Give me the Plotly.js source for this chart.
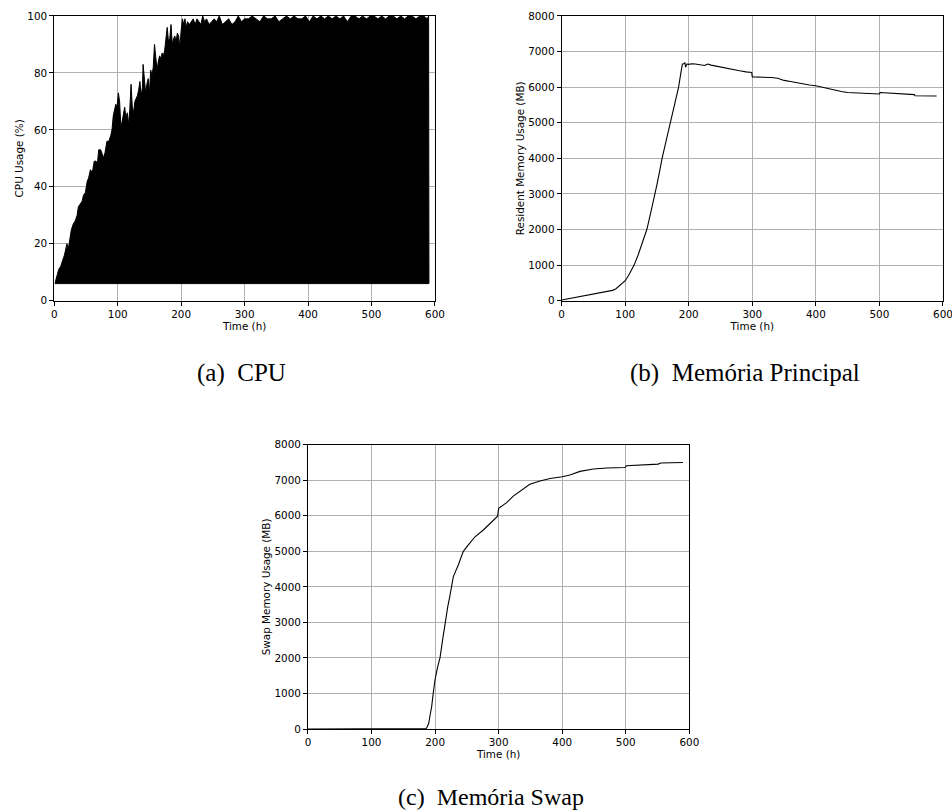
<!DOCTYPE html>
<html>
<head>
<meta charset="utf-8">
<script src="https://cdn.plot.ly/plotly-3.0.1.min.js"></script>
<style>html,body{margin:0;padding:0;background:#fff;}#chart{width:952px;height:812px;}</style>
</head>
<body>
<div id="chart"></div>
<script>
// ---- CPU usage: upper envelope of the dense oscillation and its floor ----
const cpuTime = [1,3,5,7,10,13,16,19,20,22,25,27,30,33,36,38,41,44,46,49,52,54,57,60,63,66,68,70,73,75,77,80,83,86,89,91,93,95,97,99,101,103,105,107,109,111,113,115,117,119,121,123,125,127,129,131,133,135,137,139,140,142,144,146,148,150,152,154,156,158,160,162,164,166,168,170,172,174,176,178,180,182,184,186,188,190,192,194,196,198,200,202,204,206,208,210,213,216,219,222,225,228,231,234,237,240,244,248,252,256,260,265,270,275,280,285,290,295,300,306,312,318,324,330,336,342,348,354,360,366,372,378,384,390,396,402,408,414,420,426,432,438,444,450,456,462,468,474,480,486,492,498,504,510,516,522,528,534,540,546,552,558,564,570,576,582,588,590,590.5];
const cpuPeak = [6,8,10,11,12,14,16,19,20,18,22,25,27,28,30,33,34,35,37,38,42,43,46,45,49,49,48,53,53,52,50,52,56,56,58,60,65,67,69,68,73,70,61,63,65,68,64,66,62,67,76,68,66,70,71,72,74,77,72,75,83,78,73,76,78,73,81,79,82,90,85,81,84,86,85,87,86,88,92,96,91,92,97,90,92,93,91,94,93,89,95,99,97,99,96,98,97,98,99,97,99,98,97,100,98,99,97,98,99,98,100,97,98,99,97,98,100,98,99,99,100,99,98,100,99,99,100,98,99,100,99,100,99,99,100,98,100,99,100,99,100,99,100,99,100,98,100,100,99,100,99,100,100,99,100,99,100,100,99,100,99,100,100,99,100,100,99,100,6];
const cpuFloorTime = [1, 590.5];
const cpuFloor = [6, 6];

// ---- Resident memory (MB) ----
const memTime = [0,10,20,30,40,50,60,70,80,85,90,95,100,105,110,114,120,125,130,134,140,147,150,155,158,165,171,175,180,184,188,190,192,194,195,197,200,205,210,215,220,225,228,230,235,240,250,260,270,280,290,299,300,305,310,320,330,340,350,360,370,380,390,400,405,410,420,430,440,450,460,470,480,490,500,501,510,520,530,540,550,555,556,560,570,580,590];
const memValue = [20,55,90,125,160,195,230,265,290,330,400,480,560,700,850,1000,1270,1520,1780,2000,2460,3000,3270,3720,4000,4540,5000,5310,5690,6000,6450,6650,6660,6690,6560,6650,6640,6660,6650,6640,6620,6610,6640,6650,6620,6600,6560,6530,6490,6460,6430,6410,6290,6290,6290,6280,6270,6250,6190,6160,6120,6090,6060,6040,6020,6000,5940,5910,5880,5850,5840,5835,5830,5825,5810,5850,5840,5830,5820,5810,5795,5790,5760,5760,5755,5752,5750];

// ---- Swap memory (MB) ----
const swapTime = [0,100,186,188,190,192,194.6,197,199.8,204,207.7,212,215.6,220,223,228.7,236.5,244.4,252.3,262.8,275.9,286.4,292,298.4,300,306,312.6,323,336,349,365,380.8,400,412,428,449,470,499,501,522,551,555,575,590];
const swapValue = [0,0,10,80,160,380,630,1000,1380,1750,2000,2530,3000,3450,3720,4290,4615,5000,5180,5410,5600,5770,5880,5990,6210,6280,6370,6555,6725,6885,6980,7050,7100,7150,7250,7315,7345,7360,7410,7430,7455,7485,7495,7500];

// ---- Labels ----
const xTitle = 'Time (h)';
const yTitles = ['CPU Usage (%)', 'Resident Memory Usage (MB)', 'Swap Memory Usage (MB)'];
const captions = ['(a)\u00a0 CPU', '(b)\u00a0 Memória Principal', '(c)\u00a0 Memória Swap'];

const tickFont = {family: 'DejaVu Sans', size: 10.4, color: '#000'};
const titleFont = {family: 'DejaVu Sans', size: 10.4, color: '#000'};
const capFont = {family: 'Liberation Serif', size: 25, color: '#000'};

function xAx(domain, anchor) {
  return {
    domain: domain, anchor: anchor, range: [0, 600], dtick: 100, tick0: 0,
    ticks: 'outside', ticklen: 4, tickwidth: 1, tickcolor: '#000',
    showline: true, mirror: true, linecolor: '#000', linewidth: 1,
    showgrid: true, gridcolor: '#b0b0b0', gridwidth: 1, zeroline: false,
    ticklabeloverflow: 'allow',
    tickfont: tickFont, title: {text: xTitle, font: titleFont, standoff: 2}
  };
}
function yAx(domain, anchor, range, dtick, title) {
  return {
    domain: domain, anchor: anchor, range: range, dtick: dtick, tick0: 0,
    ticks: 'outside', ticklen: 4, tickwidth: 1, tickcolor: '#000',
    showline: true, mirror: true, linecolor: '#000', linewidth: 1,
    showgrid: true, gridcolor: '#b0b0b0', gridwidth: 1, zeroline: false,
    tickfont: tickFont, title: {text: title, font: titleFont}
  };
}

const traces = [
  {x: cpuFloorTime, y: cpuFloor, xaxis: 'x', yaxis: 'y', mode: 'lines',
   line: {color: '#000', width: 1}, hoverinfo: 'skip'},
  {x: cpuTime, y: cpuPeak, xaxis: 'x', yaxis: 'y', mode: 'lines',
   line: {color: '#000', width: 1}, fill: 'tonexty', fillcolor: '#000'},
  {x: memTime, y: memValue, xaxis: 'x2', yaxis: 'y2', mode: 'lines',
   line: {color: '#000', width: 1.1}},
  {x: swapTime, y: swapValue, xaxis: 'x3', yaxis: 'y3', mode: 'lines',
   line: {color: '#000', width: 1.1}}
];

const layout = {
  width: 952, height: 812,
  margin: {l: 0, r: 0, t: 0, b: 0},
  paper_bgcolor: '#fff', plot_bgcolor: '#fff',
  showlegend: false,
  xaxis: xAx([0.0570, 0.4569], 'y'),
  yaxis: yAx([0.6297, 0.9803], 'x', [0, 100], 20, yTitles[0]),
  xaxis2: xAx([0.5900, 0.9905], 'y2'),
  yaxis2: yAx([0.6297, 0.9803], 'x2', [0, 8000], 1000, yTitles[1]),
  xaxis3: xAx([0.3235, 0.7241], 'y3'),
  yaxis3: yAx([0.1022, 0.4523], 'x3', [0, 8000], 1000, yTitles[2]),
  annotations: [
    {text: captions[0], xref: 'paper', yref: 'paper', x: 0.2532, y: 0.5406, xanchor: 'center', yanchor: 'middle', showarrow: false, font: capFont},
    {text: captions[1], xref: 'paper', yref: 'paper', x: 0.7826, y: 0.5406, xanchor: 'center', yanchor: 'middle', showarrow: false, font: capFont},
    {text: captions[2], xref: 'paper', yref: 'paper', x: 0.5158, y: 0.0185, xanchor: 'center', yanchor: 'middle', showarrow: false, font: {family: 'Liberation Serif', size: 24, color: '#000'}}
  ]
};

Plotly.newPlot('chart', traces, layout, {staticPlot: true, displayModeBar: false});
</script>
</body>
</html>
